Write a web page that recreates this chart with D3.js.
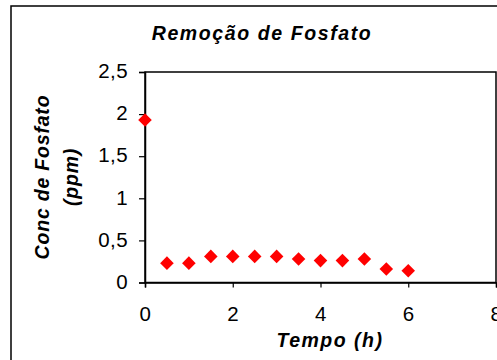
<!DOCTYPE html>
<html>
<head>
<meta charset="utf-8">
<script src="https://cdn.jsdelivr.net/npm/d3@7"></script>
<style>
  body { margin: 0; background: #fff; }
  svg { display: block; font-family: "Liberation Sans", Arial, sans-serif; }
</style>
</head>
<body>
<div id="chart"></div>
<script>
// data
const tempo = [0, 0.5, 1, 1.5, 2, 2.5, 3, 3.5, 4, 4.5, 5, 5.5, 6];
const fosfato = [1.93, 0.23, 0.23, 0.31, 0.31, 0.31, 0.31, 0.28, 0.26, 0.26, 0.28, 0.16, 0.14];
const xTicks = [0, 2, 4, 6, 8];
const yTicks = [0, 0.5, 1, 1.5, 2, 2.5];

const width = 497, height = 360;
const fmt = d => String(d).replace('.', ',');

const svg = d3.select('#chart').append('svg')
  .attr('width', width)
  .attr('height', height);

svg.append('rect')
  .attr('width', width).attr('height', height)
  .attr('fill', '#fff');

// outer chart border (runs off the right / bottom of the picture)
svg.append('rect')
  .attr('x', 11).attr('y', 6)
  .attr('width', 600).attr('height', 400)
  .attr('fill', 'none')
  .attr('stroke', '#000')
  .attr('stroke-width', 1.5);

const x = d3.scaleLinear().domain([0, 8]).range([145, 496]);
const y = d3.scaleLinear().domain([0, 2.5]).range([282.5, 72]);

// plot frame
svg.append('rect')
  .attr('x', x(0)).attr('y', y(2.5))
  .attr('width', x(8) - x(0)).attr('height', y(0) - y(2.5))
  .attr('fill', 'none')
  .attr('stroke', '#000')
  .attr('stroke-width', 1.5);

const xAxis = svg.append('g')
  .attr('transform', `translate(0,${y(0)})`)
  .call(d3.axisBottom(x).tickValues(xTicks).tickFormat(fmt).tickSize(5).tickPadding(19));
const yAxis = svg.append('g')
  .attr('transform', `translate(${x(0)},0)`)
  .call(d3.axisLeft(y).tickValues(yTicks).tickFormat(fmt).tickSize(6).tickPadding(11));

[xAxis, yAxis].forEach(g => {
  g.select('.domain').attr('stroke', '#000').attr('stroke-width', 1.5);
  g.selectAll('.tick line').attr('stroke', '#000').attr('stroke-width', 1.2);
  g.selectAll('.tick text')
    .attr('fill', '#000')
    .style('font-family', '"Liberation Sans", Arial, sans-serif')
    .style('font-size', '20.5px')
    .style('letter-spacing', '0.4px');
});
yAxis.selectAll('.tick text').attr('dy', '0.28em');

// points
const diamond = d3.symbol().type(d3.symbolSquare).size(92);
svg.append('g').selectAll('path')
  .data(tempo)
  .enter()
  .append('path')
  .attr('d', diamond)
  .attr('transform', (d, i) => `translate(${x(d)},${y(fosfato[i])}) rotate(45)`)
  .attr('fill', '#ff0000');

// titles
svg.append('text')
  .attr('x', 262).attr('y', 40)
  .attr('text-anchor', 'middle')
  .style('font-size', '19.5px').style('font-weight', 'bold').style('font-style', 'italic')
  .style('letter-spacing', '1.6px')
  .text('Remoção de Fosfato');

svg.append('text')
  .attr('x', 330).attr('y', 346.5)
  .attr('text-anchor', 'middle')
  .style('font-size', '19.5px').style('font-weight', 'bold').style('font-style', 'italic')
  .style('letter-spacing', '1.5px')
  .text('Tempo (h)');

const yTitle = svg.append('text')
  .attr('transform', 'translate(0,177) rotate(-90)')
  .attr('text-anchor', 'middle')
  .style('font-size', '19.5px').style('font-weight', 'bold').style('font-style', 'italic')
  .style('letter-spacing', '0.8px');
yTitle.append('tspan').attr('x', 0).attr('y', 49).text('Conc de Fosfato');
yTitle.append('tspan').attr('x', 0).attr('y', 78).text('(ppm)');
</script>
</body>
</html>
